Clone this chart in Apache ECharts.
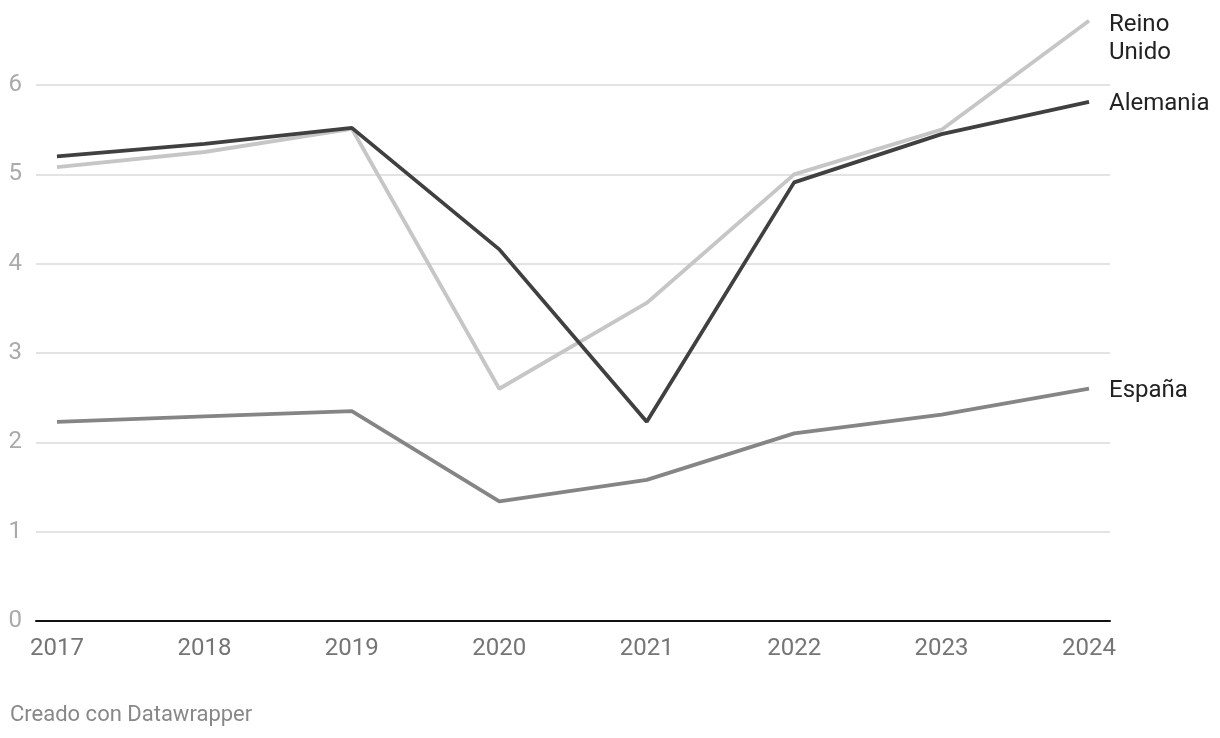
<!DOCTYPE html>
<html>
<head>
<meta charset="utf-8">
<script src="https://cdn.jsdelivr.net/npm/echarts@6/dist/echarts.min.js"></script>
<style>
html,body{margin:0;padding:0;background:#fff;}
#chart{width:1220px;height:738px;}
</style>
</head>
<body>
<div id="chart"></div>
<script>
var years = ['2017','2018','2019','2020','2021','2022','2023','2024'];
var yTicks = [0,1,2,3,4,5,6];
var alemania = [5.20, 5.34, 5.52, 4.16, 2.23, 4.91, 5.45, 5.81];
var reinoUnido = [5.08, 5.25, 5.51, 2.60, 3.56, 5.00, 5.50, 6.72];
var espana = [2.23, 2.29, 2.35, 1.34, 1.58, 2.10, 2.31, 2.60];
var footer = 'Creado con Datawrapper';

function pairs(arr){ return arr.map(function(v,i){ return [i, v]; }); }

var FONT = 'Roboto, "Noto Sans", sans-serif';
var chart = echarts.init(document.getElementById('chart'));

function endLbl(text, vAlign, offY){
  return {
    show: true,
    formatter: text,
    color: '#222',
    fontSize: 24,
    fontFamily: FONT,
    lineHeight: 28,
    distance: 20,
    align: 'left',
    verticalAlign: vAlign,
    offset: [0, offY]
  };
}

chart.setOption({
  animation: false,
  backgroundColor: '#fff',
  grid: { left: 36, right: 110, top: 85, bottom: 117, containLabel: false },
  xAxis: {
    type: 'value',
    min: -0.1423,
    max: 7.1423,
    splitLine: { show: false },
    axisLine: { show: true, onZero: false, lineStyle: { color: '#111', width: 2 } },
    axisTick: { show: false },
    axisLabel: {
      customValues: years.map(function(y,i){ return i; }),
      formatter: function(v){ return years[Math.round(v)]; },
      color: '#757575',
      fontSize: 24,
      fontFamily: FONT,
      margin: 16
    }
  },
  yAxis: {
    type: 'value',
    min: yTicks[0],
    max: yTicks[yTicks.length-1],
    interval: 1,
    axisLine: { show: false },
    axisTick: { show: false },
    splitLine: { show: true, lineStyle: { color: '#e3e3e3', width: 2 } },
    axisLabel: {
      color: '#aaa',
      fontSize: 24,
      fontFamily: FONT,
      margin: 14,
      padding: [3, 0, 0, 0]
    }
  },
  series: [
    {
      name: 'España', type: 'line', data: pairs(espana), clip: false,
      symbol: 'none', lineStyle: { color: '#858585', width: 3.8 },
      endLabel: endLbl('España', 'middle', 2)
    },
    {
      name: 'Reino Unido', type: 'line', data: pairs(reinoUnido), clip: false,
      symbol: 'none', lineStyle: { color: '#c6c6c6', width: 3.8 },
      endLabel: endLbl('Reino\nUnido', 'top', -10)
    },
    {
      name: 'Alemania', type: 'line', data: pairs(alemania), clip: false,
      symbol: 'none', lineStyle: { color: '#404040', width: 3.8 },
      endLabel: endLbl('Alemania', 'middle', 2)
    }
  ],
  graphic: [{
    type: 'text', left: 10, top: 704,
    style: { text: footer, fill: '#888', fontSize: 22, fontFamily: FONT }
  }]
});
</script>
</body>
</html>
